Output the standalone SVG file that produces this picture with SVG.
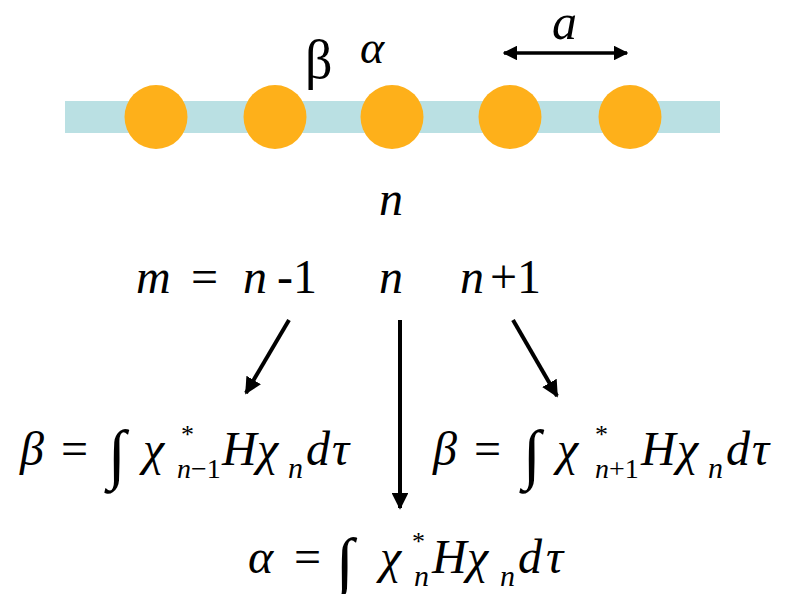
<svg xmlns="http://www.w3.org/2000/svg" width="792" height="594" viewBox="0 0 792 594">
<defs>
<marker id="ah" viewBox="0 0 10 10" refX="9" refY="5" markerWidth="4.2" markerHeight="4.2" markerUnits="strokeWidth" orient="auto-start-reverse">
<path d="M0,0 L10,5 L0,10 z" fill="#000"/>
</marker>
</defs>
<rect id="chain" x="65" y="101" width="655" height="32" fill="#bae0e3"/>
<g id="atom1"><ellipse fill="#feb01a" cx="156" cy="117" rx="31.5" ry="32"/></g>
<g id="atom2"><ellipse fill="#feb01a" cx="275" cy="117" rx="31.5" ry="32"/></g>
<g id="atom3"><ellipse fill="#feb01a" cx="392" cy="117" rx="31.5" ry="32"/></g>
<g id="atom4"><ellipse fill="#feb01a" cx="510" cy="117" rx="31.5" ry="32"/></g>
<g id="atom5"><ellipse fill="#feb01a" cx="630" cy="117" rx="31.5" ry="32"/></g>
<g id="labels-top">
<text x="305" y="78" style="font-family:'Liberation Serif',serif;font-size:54px">β</text>
<text x="360" y="63" style="font-family:'Liberation Serif',serif;font-size:46px;font-style:italic">α</text>
<text x="552" y="39" style="font-family:'Liberation Serif',serif;font-size:50px;font-style:italic">a</text>
</g>
<g id="index-labels">
<text x="136" y="293" style="font-family:'Liberation Serif',serif;font-size:48px;font-style:italic">m</text>
<text x="191" y="293" style="font-family:'Liberation Serif',serif;font-size:48px">=</text>
<text x="243" y="293" style="font-family:'Liberation Serif',serif;font-size:48px;font-style:italic">n</text>
<text x="277" y="293" style="font-family:'Liberation Serif',serif;font-size:48px">-1</text>
<text x="379" y="215" style="font-family:'Liberation Serif',serif;font-size:48px;font-style:italic">n</text>
<text x="379" y="293" style="font-family:'Liberation Serif',serif;font-size:48px;font-style:italic">n</text>
<text x="460" y="293" style="font-family:'Liberation Serif',serif;font-size:48px;font-style:italic">n</text>
<text x="490" y="293" style="font-family:'Liberation Serif',serif;font-size:48px">+1</text>
</g>
<g id="connectors" stroke="#000" stroke-width="4" fill="none">
<line x1="289" y1="320" x2="246" y2="393" marker-end="url(#ah)"/>
<line x1="400" y1="320" x2="400" y2="508" marker-end="url(#ah)"/>
<line x1="513" y1="320" x2="557" y2="396" marker-end="url(#ah)"/>
<line x1="504" y1="53" x2="627" y2="53" stroke-width="3.5" marker-start="url(#ah)" marker-end="url(#ah)"/>
</g>
<g id="beta-left">
<text x="20" y="465" style="font-family:'Liberation Serif',serif;font-size:48px;font-style:italic">β</text>
<text x="61" y="465" style="font-family:'Liberation Serif',serif;font-size:48px">=</text>
<text x="108" y="476" style="font-family:'Liberation Serif',serif;font-size:66px">∫</text>
<text x="143" y="465" style="font-family:'Liberation Serif',serif;font-size:48px;font-style:italic">χ</text>
<text x="181" y="443" style="font-family:'Liberation Serif',serif;font-size:26px">*</text>
<text x="177" y="478" style="font-family:'Liberation Serif',serif;font-size:28px"><tspan style="font-style:italic">n</tspan>−1</text>
<text x="222" y="465" style="font-family:'Liberation Serif',serif;font-size:48px;font-style:italic">H</text>
<text x="257" y="465" style="font-family:'Liberation Serif',serif;font-size:48px;font-style:italic">χ</text>
<text x="288" y="478" style="font-family:'Liberation Serif',serif;font-size:30px;font-style:italic">n</text>
<text x="306" y="465" style="font-family:'Liberation Serif',serif;font-size:48px;font-style:italic">d</text>
<text x="332" y="465" style="font-family:'Liberation Serif',serif;font-size:48px;font-style:italic">τ</text>
</g>
<g id="beta-right">
<text x="433" y="465" style="font-family:'Liberation Serif',serif;font-size:48px;font-style:italic">β</text>
<text x="474" y="465" style="font-family:'Liberation Serif',serif;font-size:48px">=</text>
<text x="523" y="476" style="font-family:'Liberation Serif',serif;font-size:66px">∫</text>
<text x="557" y="465" style="font-family:'Liberation Serif',serif;font-size:48px;font-style:italic">χ</text>
<text x="595" y="443" style="font-family:'Liberation Serif',serif;font-size:26px">*</text>
<text x="595" y="478" style="font-family:'Liberation Serif',serif;font-size:28px"><tspan style="font-style:italic">n</tspan>+1</text>
<text x="641" y="465" style="font-family:'Liberation Serif',serif;font-size:48px;font-style:italic">H</text>
<text x="677" y="465" style="font-family:'Liberation Serif',serif;font-size:48px;font-style:italic">χ</text>
<text x="708" y="478" style="font-family:'Liberation Serif',serif;font-size:30px;font-style:italic">n</text>
<text x="726" y="465" style="font-family:'Liberation Serif',serif;font-size:48px;font-style:italic">d</text>
<text x="752" y="465" style="font-family:'Liberation Serif',serif;font-size:48px;font-style:italic">τ</text>
</g>
<g id="alpha-bottom">
<text x="248" y="573" style="font-family:'Liberation Serif',serif;font-size:48px;font-style:italic">α</text>
<text x="294" y="573" style="font-family:'Liberation Serif',serif;font-size:48px">=</text>
<text x="336" y="584" style="font-family:'Liberation Serif',serif;font-size:66px">∫</text>
<text x="380" y="573" style="font-family:'Liberation Serif',serif;font-size:48px;font-style:italic">χ</text>
<text x="412" y="550" style="font-family:'Liberation Serif',serif;font-size:26px">*</text>
<text x="414" y="586" style="font-family:'Liberation Serif',serif;font-size:30px;font-style:italic">n</text>
<text x="432" y="573" style="font-family:'Liberation Serif',serif;font-size:48px;font-style:italic">H</text>
<text x="467" y="573" style="font-family:'Liberation Serif',serif;font-size:48px;font-style:italic">χ</text>
<text x="500" y="586" style="font-family:'Liberation Serif',serif;font-size:30px;font-style:italic">n</text>
<text x="518" y="573" style="font-family:'Liberation Serif',serif;font-size:48px;font-style:italic">d</text>
<text x="546" y="573" style="font-family:'Liberation Serif',serif;font-size:48px;font-style:italic">τ</text>
</g>
</svg>
